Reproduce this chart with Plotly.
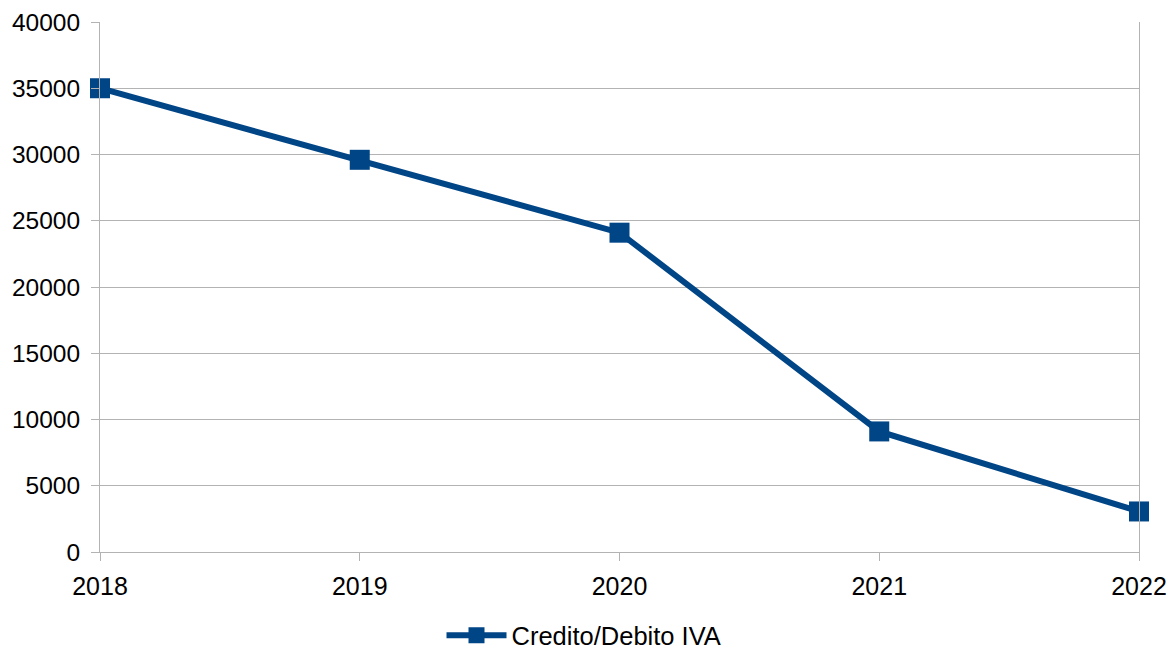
import plotly.graph_objects as go

# Dati
anni = [2018, 2019, 2020, 2021, 2022]
credito_debito_iva = [35000, 29600, 24100, 9100, 3060]
tick_y = [0, 5000, 10000, 15000, 20000, 25000, 30000, 35000, 40000]

blu = "#004586"
grigio = "#b3b3b3"

fig = go.Figure()

fig.add_trace(go.Scatter(
    x=anni,
    y=credito_debito_iva,
    mode="lines+markers",
    name="Credito/Debito IVA",
    line=dict(color=blu, width=6),
    marker=dict(symbol="square", size=20, color=blu),
    cliponaxis=False,
))

fig.update_layout(
    width=1168,
    height=650,
    margin=dict(l=100, r=29, t=22, b=98),
    plot_bgcolor="white",
    paper_bgcolor="white",
    font=dict(family="Liberation Sans, Arial, sans-serif", size=25, color="black"),
    showlegend=True,
    legend=dict(
        orientation="h",
        xref="container", yref="container",
        x=0.5, y=0.022, xanchor="center", yanchor="middle",
        font=dict(size=25.5),
        itemwidth=60,
    ),
)

fig.update_xaxes(
    range=[2018, 2022],
    tickvals=anni,
    ticktext=[str(a) for a in anni],
    automargin=False,
    showgrid=False,
    zeroline=False,
    showline=True,
    linecolor=grigio,
    linewidth=1,
    ticks="outside",
    ticklen=8,
    tickcolor=grigio,
    ticklabelstandoff=4,
    tickfont=dict(size=25),
)

fig.update_yaxes(
    range=[0, 40000],
    tickvals=tick_y,
    ticktext=[str(v) for v in tick_y],
    automargin=False,
    showgrid=True,
    gridcolor=grigio,
    gridwidth=1,
    zeroline=False,
    showline=True,
    mirror=True,
    linecolor=grigio,
    linewidth=1,
    ticks="outside",
    ticklen=8,
    tickcolor=grigio,
    ticklabelstandoff=6,
    tickfont=dict(size=24.5),
)

# togli il margine del body, altrimenti la figura slitta di 8px
fig.write_html("out.html", config={"displayModeBar": False},
               post_script="document.body.style.margin='0px';")
